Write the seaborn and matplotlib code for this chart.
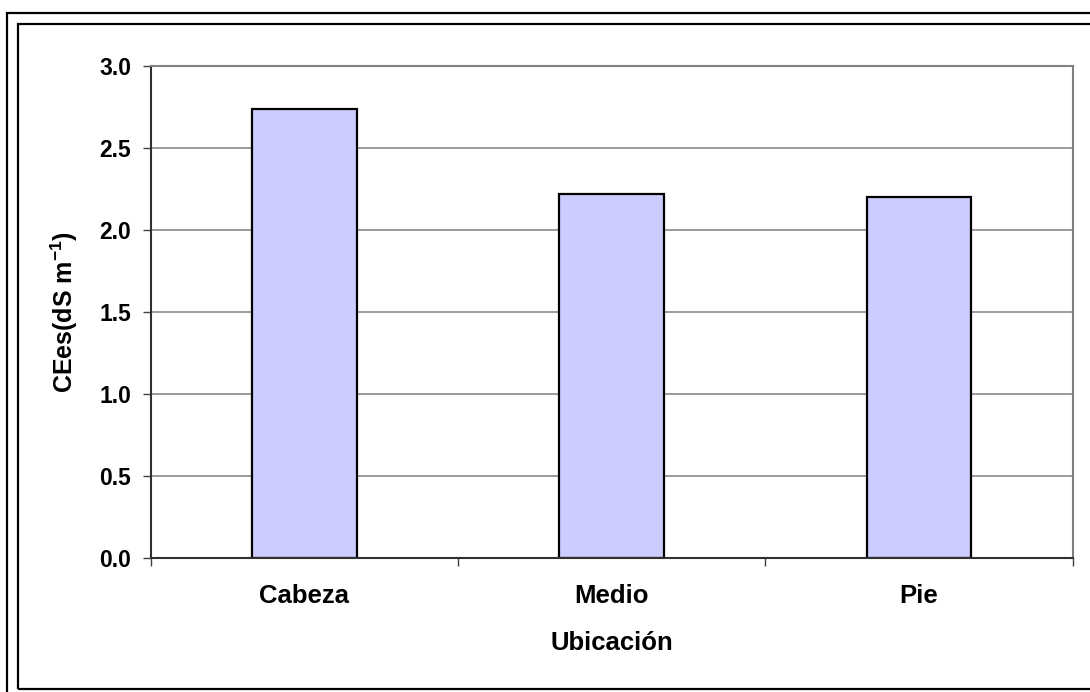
import matplotlib as mpl
import matplotlib.pyplot as plt
import pandas as pd
import seaborn as sns
from matplotlib.patches import Rectangle

# values
ubicacion = ['Cabeza', 'Medio', 'Pie']
cees = [2.74, 2.22, 2.20]
yticks = [0.0, 0.5, 1.0, 1.5, 2.0, 2.5, 3.0]

df = pd.DataFrame({'ubicacion': ubicacion, 'cees': cees})

sns.set_style('white')
plt.rcParams['font.family'] = ['Liberation Sans', 'DejaVu Sans']
plt.rcParams['font.weight'] = 'bold'
plt.rcParams['text.color'] = 'black'
plt.rcParams['axes.labelcolor'] = 'black'
plt.rcParams['xtick.labelcolor'] = 'black'
plt.rcParams['ytick.labelcolor'] = 'black'
plt.rcParams['mathtext.fontset'] = 'custom'
plt.rcParams['mathtext.rm'] = 'Liberation Sans:bold'
plt.rcParams['mathtext.bf'] = 'Liberation Sans:bold'
plt.rcParams['mathtext.default'] = 'bf'

W, H = 1090, 692
fig = plt.figure(figsize=(W / 100, H / 100), dpi=100)
ax = fig.add_axes([150.7 / W, (H - 558) / H, 922 / W, 492 / H])

sns.barplot(data=df, x='ubicacion', y='cees', ax=ax, color='#CCCCFF',
            saturation=1, edgecolor='black', linewidth=1.6, width=0.34)

ax.set_xlim(-0.5, len(ubicacion) - 0.5)
ax.set_ylim(0, 3.0)
ax.set_yticks(yticks)
ax.set_yticklabels([f'{v:.1f}' for v in yticks], fontsize=16.5, fontweight='bold', color='black')
ax.yaxis.grid(True, color='#808080', linewidth=1.1)
ax.set_axisbelow(True)

# ticks on category boundaries, labels at centres
ax.set_xticks([i - 0.5 for i in range(len(ubicacion) + 1)])
ax.set_xticklabels([])
ax.set_xticks(range(len(ubicacion)), minor=True)
ax.set_xticklabels(ubicacion, minor=True, fontsize=18.5, fontweight='bold', color='black')
ax.tick_params(axis='x', which='major', direction='out', length=6, width=1, color='#404040', bottom=True)
ax.tick_params(axis='x', which='minor', length=0, pad=19)
ax.tick_params(axis='y', direction='out', length=6, width=1, color='#404040', left=True, pad=8)

for side in ['top', 'right']:
    ax.spines[side].set_color('#808080')
    ax.spines[side].set_linewidth(1.5)
for side in ['left', 'bottom']:
    ax.spines[side].set_color('#303030')
    ax.spines[side].set_linewidth(1.5)

ax.set_xlabel('Ubicación', fontsize=18.5, fontweight='bold', color='black')
ax.xaxis.set_label_coords(0.5, -0.149)
ax.set_ylabel(r'CEes(dS m$^{-1}$)', fontsize=18, fontweight='bold', color='black')
ax.yaxis.set_label_coords(-0.077, 0.5)

# double frame around the chart
fig.add_artist(Rectangle((7 / W, -20 / H), 1200 / W, (679 + 20) / H, transform=fig.transFigure,
                         fill=False, edgecolor='black', linewidth=1.6))
fig.add_artist(Rectangle((18 / W, 3 / H), 1200 / W, 665 / H, transform=fig.transFigure,
                         fill=False, edgecolor='black', linewidth=1.6))

fig.savefig('out.png', dpi=100)
